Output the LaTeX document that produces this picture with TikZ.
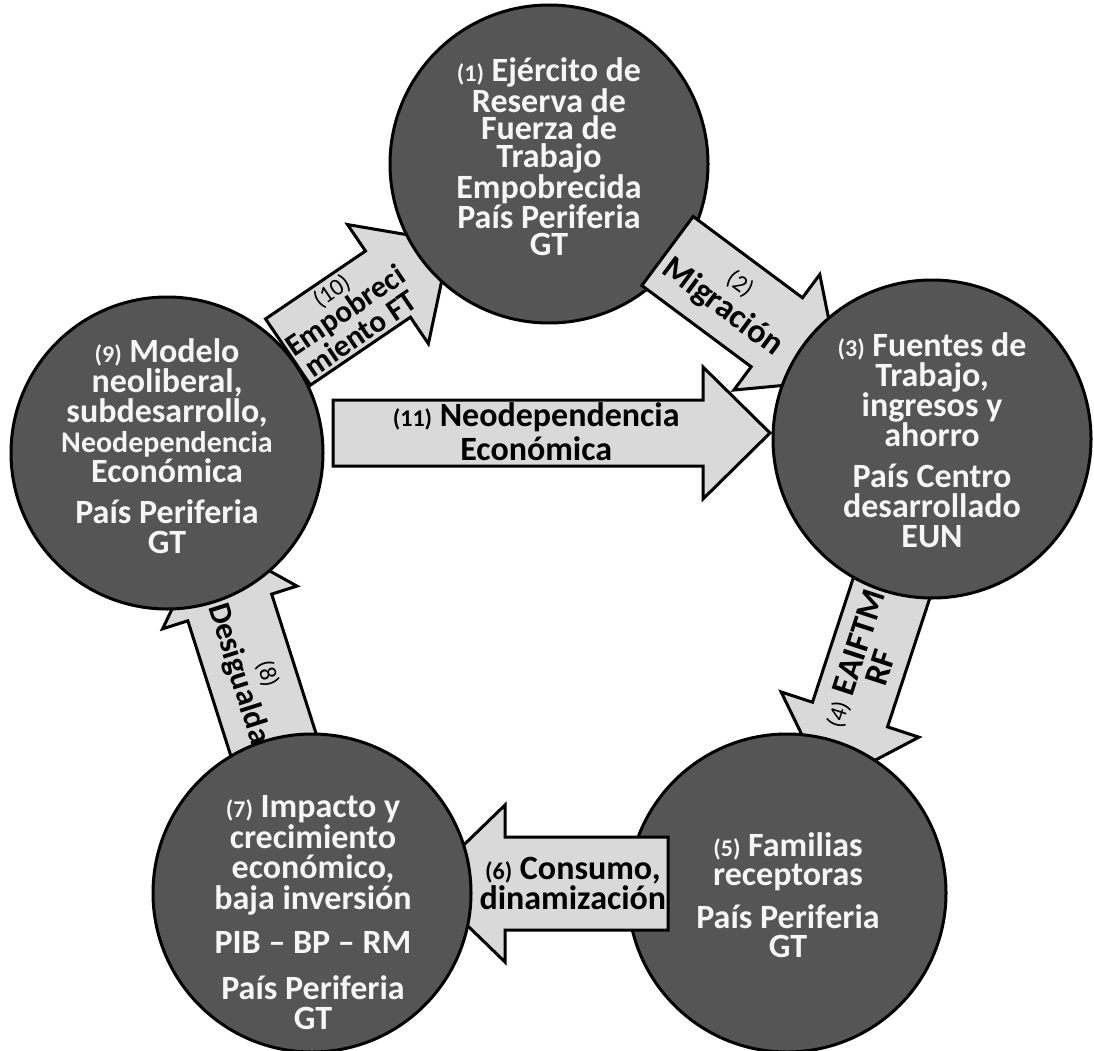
\documentclass[tikz,border=0pt]{standalone}
\usepackage{fontspec}
\setmainfont{Carlito}
\usetikzlibrary{calc}
\definecolor{circfill}{RGB}{85,85,85}
\definecolor{arrfill}{RGB}{217,217,217}
\definecolor{circtext}{RGB}{246,246,246}
\newcommand\numb[1]{{\fontsize{24}{24}\selectfont #1}}
\newcommand\numm[1]{{\fontsize{24}{24}\selectfont\mdseries #1}}
% #1 tail, #2 tip, #3 half body, #4 half head, #5 head length, #6 name
\newcommand\blockarrow[6]{%
  \coordinate (#6hb) at ($(#2)!#5!(#1)$);
  \draw[arrowbox] ($(#1)!#3!90:(#2)$) -- ($(#6hb)!#3!90:(#2)$) -- ($(#6hb)!#4!90:(#2)$)
     -- (#2) -- ($(#6hb)!#4!-90:(#2)$) -- ($(#6hb)!#3!-90:(#2)$) -- ($(#1)!#3!-90:(#2)$) -- cycle;
}
\begin{document}
\begin{tikzpicture}[x=1pt,y=-1pt,
  circ/.style={circle, draw=black, line width=3pt, fill=circfill, minimum size=318pt, inner sep=0pt},
  ctext/.style={text=circtext, align=center, inner sep=0pt},
  arrowbox/.style={draw=black, line width=3pt, fill=arrfill, line join=miter},
  alabel/.style={text=black, align=center, inner sep=0pt, sloped}]
\useasboundingbox (0,0) rectangle (1094,1051);
\fill[white] (0,0) rectangle (1094,1051);

% connector end points
\coordinate (a4s) at (893.7,581.5);  \coordinate (a4t) at (826.6,785.8);
\coordinate (a8s) at (278,759);      \coordinate (a8t) at (207,536);
\coordinate (a10s) at (288,352);     \coordinate (a10t) at (450,242);
\coordinate (a6s) at (668,883.5);    \coordinate (a6t) at (424,883.5);
\coordinate (a2s) at (667.5,251);    \coordinate (a2t) at (841,380);
\coordinate (a11s) at (333,433);     \coordinate (a11t) at (770,433);

% (4)
\blockarrow{a4s}{a4t}{39.5pt}{72.5pt}{75pt}{a4}
\path (a4s) -- (a4t) node[alabel, pos=0.40, font=\fontsize{34}{29}\selectfont\bfseries] (l4) {\numm{(4)} EAIFTM\\RF};
% (8)
\blockarrow{a8s}{a8t}{44pt}{70.5pt}{75pt}{a8}
\path (a8s) -- (a8t) node[alabel, pos=0.36, font=\fontsize{32}{29}\selectfont\bfseries] (l8) {\numm{(8)}\\Desigualdad};
% (10)
\blockarrow{a10s}{a10t}{40pt}{72pt}{75pt}{a10}
\path (a10s) -- (a10t) node[alabel, pos=0.36, font=\fontsize{31}{26.5}\selectfont\bfseries] (l10) {\numm{(10)}\\Empobreci\\miento FT};

% circle 5
\node[circ] (c5) at (787,893) {};
\node[ctext, font=\fontsize{34}{29.5}\selectfont\bfseries] (t5) at (788,895) {\numb{(5)} Familias\\receptoras\\[13pt]País Periferia\\GT};
% (6)
\blockarrow{a6s}{a6t}{46.5pt}{78.5pt}{81pt}{a6}
\path (a6s) -- (a6t) node[alabel, pos=0.39, font=\fontsize{34}{28}\selectfont\bfseries] (l6) {\numb{(6)} Consumo,\\dinamización};

% circle 7
\node[circ] (c7) at (312,893) {};
\node[ctext, font=\fontsize{34}{30.5}\selectfont\bfseries] (t7) at (313,913) {\numb{(7)} Impacto y\\crecimiento\\económico,\\baja inversión\\[14pt]PIB – BP – RM\\[15pt]País Periferia\\GT};

% circle 9
\node[circ, minimum size=312pt] (c9) at (167,453) {};
\node[ctext, font=\fontsize{34}{30}\selectfont\bfseries] (t9) at (167,446) {\numb{(9)} Modelo\\neoliberal,\\subdesarrollo,\\{\fontsize{30}{30}\selectfont Neodependencia}\\Económica\\[11pt]País Periferia\\GT};

% circle 1
\node[circ] (c1) at (549,164) {};
\node[ctext, font=\fontsize{34}{27.5}\selectfont\bfseries] (t1) at (549,157) {\numb{(1)} Ejército de\\Reserva de\\Fuerza de\\Trabajo\\Empobrecida\\País Periferia\\GT};

% (2)
\blockarrow{a2s}{a2t}{43pt}{72pt}{80pt}{a2}
\path (a2s) -- (a2t) node[alabel, pos=0.36, font=\fontsize{34}{31}\selectfont\bfseries] (l2) {\numm{(2)}\\Migración};
% (11)
\blockarrow{a11s}{a11t}{33pt}{66pt}{67pt}{a11}
\path (a11s) -- (a11t) node[alabel, pos=0.465, yshift=1pt, font=\fontsize{34}{34}\selectfont\bfseries] (l11) {\numb{(11)} Neodependencia\\Económica};

% circle 3
\node[circ] (c3) at (932,439) {};
\node[ctext, font=\fontsize{34}{30}\selectfont\bfseries] (t3) at (932,440) {\numb{(3)} Fuentes de\\Trabajo,\\ingresos y\\ahorro\\[11pt]País Centro\\desarrollado\\EUN};
\end{tikzpicture}
\end{document}
